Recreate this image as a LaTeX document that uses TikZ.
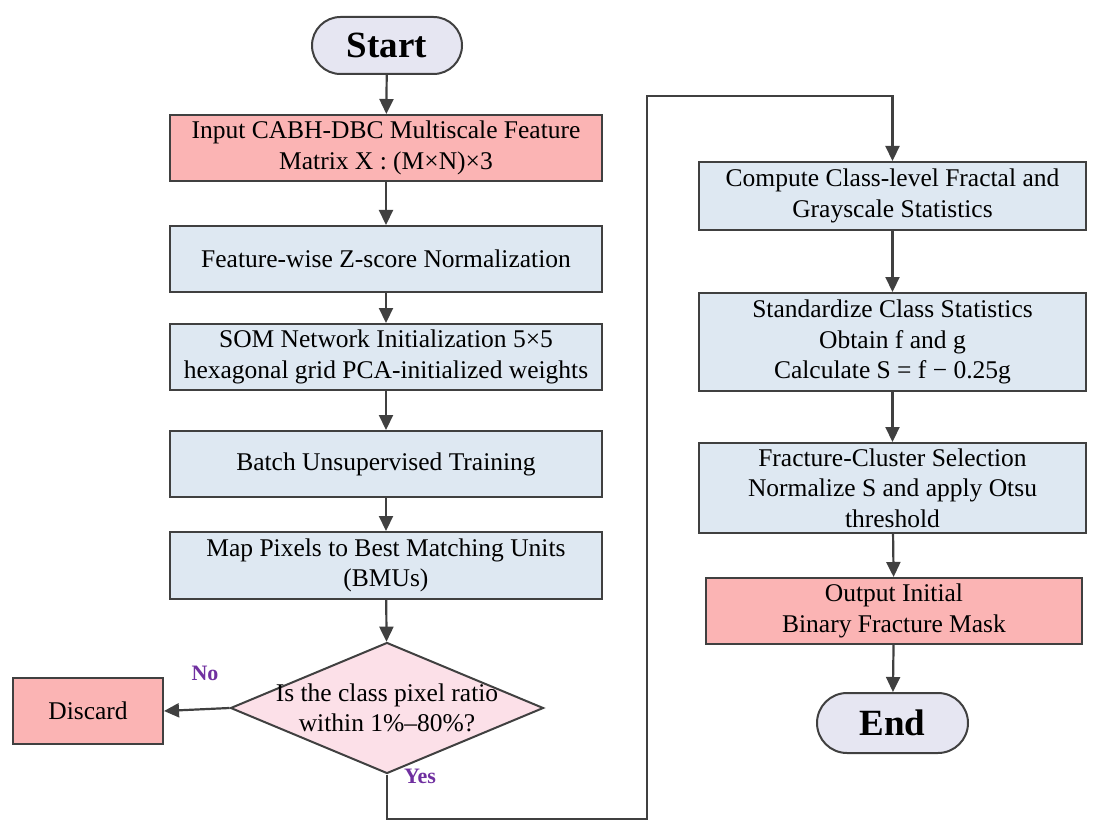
\documentclass[tikz,border=0pt]{standalone}
\usepackage{fontspec}
\setmainfont{Liberation Serif}
\usetikzlibrary{arrows.meta,shapes.geometric,shapes.misc}

\definecolor{inpink}{HTML}{FBB4B4}
\definecolor{stepblue}{HTML}{DEE8F2}
\definecolor{termlav}{HTML}{E6E6F2}
\definecolor{decpink}{HTML}{FCE0E8}
\definecolor{edgegray}{HTML}{404040}
\definecolor{yesno}{HTML}{7030A0}

\newcommand{\txt}{\fontsize{25.5}{30.5}\selectfont}

\begin{document}
\begin{tikzpicture}[x=1pt, y=-1pt,
    box/.style={draw=edgegray, line width=2pt, inner sep=0, align=center, font=\txt},
    leftbox/.style={box, minimum width=432},
    rightbox/.style={box, minimum width=387},
    term/.style={rounded rectangle, draw=edgegray, line width=2pt, fill=termlav,
      inner sep=0, font=\fontsize{37}{40}\selectfont\bfseries},
    arr/.style={-{Triangle[length=15pt, width=14pt]}, draw=edgegray, line width=2.2pt},
    yn/.style={text=yesno, font=\fontsize{22}{24}\selectfont\bfseries}]
    \useasboundingbox (0,0) rectangle (1104,832);
    \def\lx{386}
    \def\rx{892.5}
    % left column
    \node[term, minimum width=150, minimum height=57] (start) at (387,45.5) {Start};
    \node[leftbox, fill=inpink, minimum height=66] (input) at (\lx,148)
      {Input CABH-DBC Multiscale Feature\\Matrix X : (M×N)×3};
    \node[leftbox, fill=stepblue, minimum height=66] (norm) at (\lx,259)
      {Feature-wise Z-score Normalization};
    \node[leftbox, fill=stepblue, minimum height=66] (som) at (\lx,357)
      {SOM Network Initialization 5×5\\hexagonal grid PCA-initialized weights};
    \node[leftbox, fill=stepblue, minimum height=66] (train) at (\lx,464)
      {Batch Unsupervised Training};
    \node[leftbox, fill=stepblue, minimum height=67] (bmu) at (\lx,565.5)
      {Map Pixels to Best Matching Units\\(BMUs)};
    \node[diamond, draw=edgegray, line width=2pt, fill=decpink, inner sep=0,
      minimum width=313, minimum height=131] (dec) at (387,708) {};
    \node[font=\txt, align=center] (dectext) at (dec) {Is the class pixel ratio\\within 1\%–80\%?};
    \node[box, fill=inpink, minimum width=150, minimum height=66] (discard) at (88,711) {Discard};
    \node[yn] (no) at (205,673) {No};
    \node[yn] (yes) at (420,776) {Yes};
    % right column
    \node[rightbox, fill=stepblue, minimum height=68] (comp) at (\rx,196)
      {Compute Class-level Fractal and\\Grayscale Statistics};
    \node[rightbox, fill=stepblue, minimum height=98] (stand) at (\rx,342)
      {Standardize Class Statistics\\Obtain f and g\\Calculate S = f − 0.25g};
    \node[rightbox, fill=stepblue, minimum height=90] (sel) at (\rx,488)
      {Fracture-Cluster Selection\\Normalize S and apply Otsu\\threshold};
    \node[box, fill=inpink, minimum width=376, minimum height=66] (out) at (894,611)
      {Output Initial\\Binary Fracture Mask};
    \node[term, minimum width=151, minimum height=60] (end) at (\rx,723) {End};
    % connectors
    \draw[arr] (start) -- (input);
    \draw[arr] (input) -- (norm);
    \draw[arr] (norm) -- (som);
    \draw[arr] (som) -- (train);
    \draw[arr] (train) -- (bmu);
    \draw[arr] (bmu) -- (dec);
    \draw[arr] (dec.west) -- (discard.east);
    \coordinate (loopA) at (647,819);
    \coordinate (loopB) at (647,96);
    \draw[arr] (dec.south) |- (loopA) -- (loopB) -| (comp.north);
    \draw[arr] (comp) -- (stand);
    \draw[arr] (stand) -- (sel);
    \draw[arr] (sel) -- (out);
    \draw[arr] (out) -- (end);
  \end{tikzpicture}
\end{document}
